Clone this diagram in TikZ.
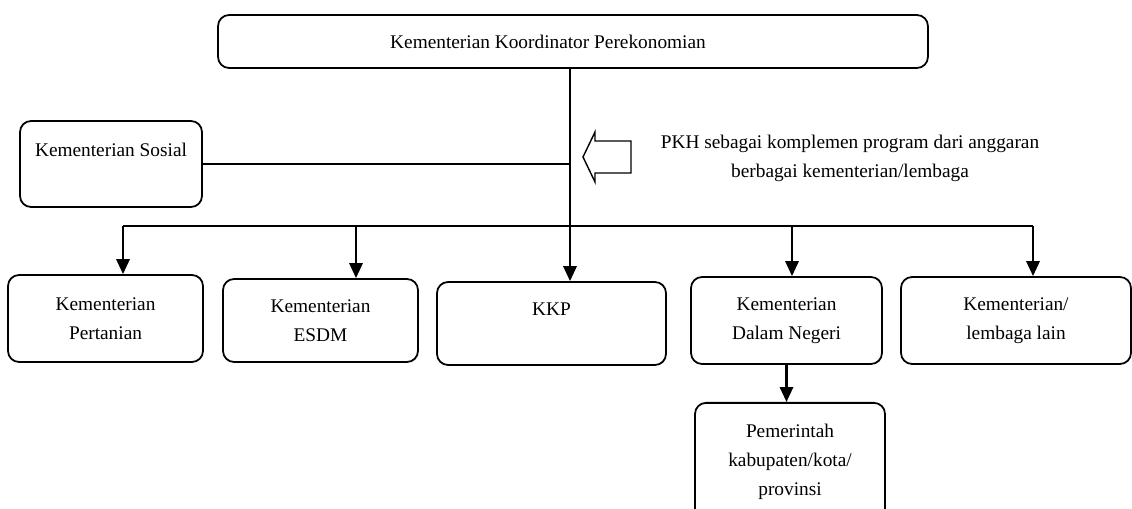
\documentclass[tikz,border=0pt]{standalone}
\usepackage{fontspec}
\setmainfont{Liberation Serif}
\usetikzlibrary{arrows.meta, positioning}

\begin{document}
\begin{tikzpicture}[x=0.02cm, y=-0.02cm,
    box/.style={rectangle, draw, rounded corners=0.22cm, line width=1pt, align=center, font=\fontsize{11}{16.5}\selectfont, inner sep=2pt},
    note/.style={align=center, font=\fontsize{11}{16.5}\selectfont, inner sep=0pt},
    link/.style={line width=1.4pt},
    arr/.style={line width=1.4pt, -{Triangle[width=7.5pt,length=8.5pt]}}
]
\useasboundingbox (0,0) rectangle (1132,509);
\clip (0,0) rectangle (1132,509);

% Top coordinating ministry
\node[box, minimum width=14.2cm, minimum height=1.06cm] (KKor) at (573, 41.5) {Kementerian Koordinator Perekonomian\hspace*{1cm}};

% Ministry of social affairs (left)
\node[box, minimum width=3.64cm, minimum height=1.72cm] (Sosial) at (111, 164) {Kementerian Sosial\\~};

% Note with block arrow
\node[note] (Cat) at (850, 158) {PKH sebagai komplemen program dari anggaran\\berbagai kementerian/lembaga};
\draw[line width=0.8pt] (583,157) -- (595,132) -- (595,141) -- (631,141) -- (631,173) -- (595,173) -- (595,182) -- cycle;

% Bottom row of ministries
\node[box, minimum width=3.9cm, minimum height=1.74cm] (Pert) at (105.5, 318.5) {Kementerian\\Pertanian};
\node[box, minimum width=3.9cm, minimum height=1.66cm] (ESDM) at (320.5, 320.5) {Kementerian\\ESDM};
\node[box, minimum width=4.58cm, minimum height=1.66cm] (KKP) at (551.5, 323.5) {KKP\\~};
\node[box, minimum width=3.82cm, minimum height=1.74cm] (DN) at (786.5, 320.5) {Kementerian\\Dalam Negeri};
\node[box, minimum width=4.6cm, minimum height=1.74cm] (Lain) at (1016, 320.5) {Kementerian/\\lembaga lain};

% Local government
\node[box, anchor=north, minimum width=3.8cm, minimum height=2.36cm] (Pemda) at (790, 402) {Pemerintah\\kabupaten/kota/\\provinsi};

% Main spine and distribution line
\coordinate (spine) at (570, 226);
\coordinate (b1) at (123, 226);
\coordinate (b2) at (356, 226);
\coordinate (b3) at (792, 226);
\coordinate (b4) at (1033, 226);

\draw[arr] (spine |- KKor.south) -- (spine |- KKP.north);
\draw[link] (Sosial.east) -- (Sosial.east -| spine);
\draw[link] (b1) -- (b4);

\draw[arr] (b1) -- (b1 |- Pert.north);
\draw[arr] (b2) -- (b2 |- ESDM.north);
\draw[arr] (b3) -- (b3 |- DN.north);
\draw[arr] (b4) -- (b4 |- Lain.north);
\draw[arr] (DN.south) -- (DN.south |- Pemda.north);

\end{tikzpicture}
\end{document}
